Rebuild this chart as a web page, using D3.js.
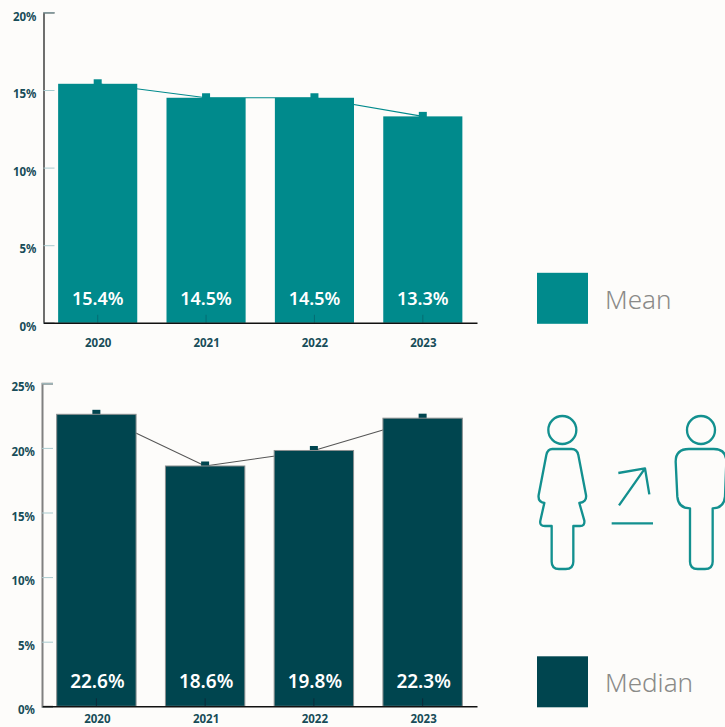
<!DOCTYPE html>
<html>
<head>
<meta charset="utf-8">
<script src="https://cdn.jsdelivr.net/npm/d3@7"></script>
<style>
html,body{margin:0;padding:0;background:#fdfcfa;overflow:hidden}
svg{display:block}
text{font-family:"Noto Sans",sans-serif}
</style>
</head>
<body>
<svg id="chart" width="725" height="727"></svg>
<script>
const years = ["2020", "2021", "2022", "2023"];
const meanValues = [15.4, 14.5, 14.5, 13.3];
const medianValues = [22.6, 18.6, 19.8, 22.3];
const meanTicks = [0, 5, 10, 15, 20];
const medianTicks = [0, 5, 10, 15, 20, 25];

const TEAL = "#008a8c";
const DARK = "#00454f";
const INK = "#174c58";
const svg = d3.select("#chart");

// One column panel: axes, connecting line, top markers, bars, value labels and legend key.
function panel(cfg) {
  const x = d3.scaleBand().domain(years).range([cfg.left, 477]).paddingInner(0.27).paddingOuter(0.135);
  const y = d3.scaleLinear().domain(cfg.domain).range([cfg.bottom, cfg.top]);
  const cx = d => x(d) + x.bandwidth() / 2;
  const g = svg.append("g");

  // value axis
  const yAxis = g.append("g").attr("transform", `translate(${cfg.left},0)`)
    .call(d3.axisRight(y).tickValues(cfg.ticks).tickSize(11).tickFormat(d => d + "%"));
  yAxis.select(".domain").attr("stroke", cfg.axisColor).attr("stroke-width", cfg.axisWidth);
  yAxis.selectAll(".tick line").attr("stroke", "#a9cbcf").attr("stroke-width", 1);
  yAxis.selectAll(".tick text")
    .attr("x", -7).attr("text-anchor", "end").attr("dy", "0.32em").attr("y", 4)
    .attr("fill", INK).attr("font-size", 11.5).attr("font-weight", 700);

  // line through the yearly values, passing behind the bars
  const line = d3.line().x((d, i) => cx(years[i])).y(d => y(d));
  g.append("path").attr("d", line(cfg.values)).attr("fill", "none")
    .attr("stroke", cfg.lineColor).attr("stroke-width", 1.1);

  // square point markers, half hidden by the bars
  g.selectAll("rect.marker").data(cfg.values).join("rect").attr("class", "marker")
    .attr("x", (d, i) => cx(years[i]) - 4).attr("y", d => y(d) - cfg.markerRise)
    .attr("width", 8).attr("height", cfg.markerRise * 2).attr("fill", cfg.color);

  g.selectAll("rect.bar").data(cfg.values).join("rect").attr("class", "bar")
    .attr("x", (d, i) => x(years[i])).attr("y", d => y(d))
    .attr("width", x.bandwidth()).attr("height", d => cfg.bottom - y(d))
    .attr("fill", cfg.color)
    .attr("stroke", cfg.barStroke).attr("stroke-width", cfg.barStroke === "none" ? 0 : 1);

  // category axis with inward ticks
  const xAxis = g.append("g").attr("transform", `translate(0,${cfg.bottom})`)
    .call(d3.axisBottom(x).tickSize(-8).tickSizeOuter(0));
  xAxis.select(".domain").attr("stroke", "#111").attr("stroke-width", 1.4);
  xAxis.selectAll(".tick line").attr("stroke", "#123").attr("stroke-width", 0.8).attr("opacity", cfg.tickOpacity);
  xAxis.selectAll(".tick text").attr("x", cfg.yearShift).attr("y", cfg.yearOffset).attr("dy", "0.32em")
    .attr("fill", INK).attr("font-size", 11.5).attr("font-weight", 700);

  // value printed at the foot of each bar
  g.selectAll("text.value").data(cfg.values).join("text").attr("class", "value")
    .attr("x", (d, i) => cx(years[i]) + cfg.valueShift).attr("y", cfg.bottom - 18)
    .attr("text-anchor", "middle").attr("fill", "#fff")
    .attr("font-size", cfg.valueSize).attr("font-weight", 600)
    .text(d => d.toFixed(1) + "%");

  // legend key
  g.append("rect").attr("x", 537).attr("y", cfg.bottom - 50).attr("width", 51).attr("height", 51).attr("fill", cfg.color);
  g.append("text").attr("x", 605).attr("y", cfg.bottom - 14)
    .attr("fill", "#8a8a88").attr("font-size", 26).attr("font-weight", 300).text(cfg.name);
}

panel({
  name: "Mean", values: meanValues, ticks: meanTicks, domain: [0, 20],
  left: 43.5, top: 12.4, bottom: 322.8,
  color: TEAL, lineColor: TEAL, barStroke: "none",
  axisColor: "#111", axisWidth: 1.2, tickOpacity: 0.35,
  yearOffset: 20.5, yearShift: 0.5, valueShift: 0, valueSize: 18, markerRise: 4.5
});
panel({
  name: "Median", values: medianValues, ticks: medianTicks, domain: [0, 25],
  left: 42, top: 383.3, bottom: 706.3,
  color: DARK, lineColor: "#555", barStroke: "#8a8f90",
  axisColor: "#808080", axisWidth: 2, tickOpacity: 1,
  yearOffset: 13.5, yearShift: 1, valueShift: 1, valueSize: 19, markerRise: 4.5
});

// Woman, arrow and man pictogram, drawn on a 3x grid
const icon = svg.append("g").attr("transform", "translate(525,400) scale(0.33333)")
  .attr("fill", "none").attr("stroke", "#13908f").attr("stroke-width", 7)
  .attr("stroke-linejoin", "round");
icon.append("circle").attr("cx", 112).attr("cy", 90).attr("r", 42);
icon.append("path").attr("d", "M82 147L140 147Q156 147 160 165L183 285Q186 306 163 309L178 362Q180 378 165 378L145 378L145 485Q145 507 122 507L102 507Q80 507 80 485L80 378L60 378Q43 378 46 362L58 309Q38 306 41 285L64 165Q68 147 82 147Z");
icon.append("circle").attr("cx", 528).attr("cy", 90).attr("r", 42);
icon.append("path").attr("d", "M492 147L566 147Q604 147 604 185L600 290Q597 325 563 325L563 485Q563 507 540 507L518 507Q495 507 495 485L495 325Q460 325 457 290L452 185Q452 147 492 147Z");
icon.append("path").attr("d", "M282 316L360 205M280 219L360 205L373 283M260 370L384 370");
</script>
</body>
</html>
